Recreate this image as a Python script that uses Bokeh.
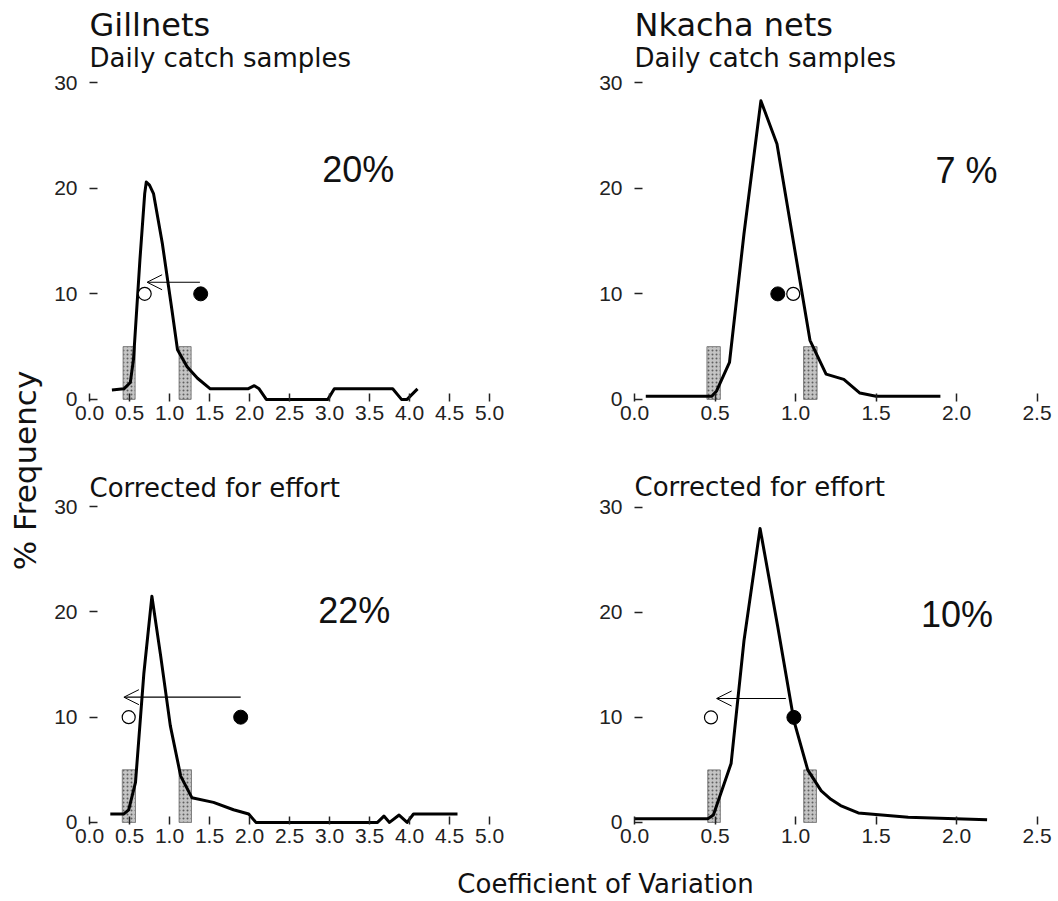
import math
from bokeh.plotting import figure
from bokeh.layouts import row, column
from bokeh.models import (Range1d, FixedTicker, Label, Arrow, OpenHead,
                          CustomJSTickFormatter)
from bokeh.embed import file_html
from bokeh.resources import INLINE

# ---------------- data ----------------
gill_x_ticks = [0.0, 0.5, 1.0, 1.5, 2.0, 2.5, 3.0, 3.5, 4.0, 4.5, 5.0]
gill_x_labels = ["0.0", "0.5", "1.0", "1.5", "2.0", "2.5", "3.0", "3.5", "4.0", "4.5", "5.0"]
nk_x_ticks = [0.0, 0.5, 1.0, 1.5, 2.0, 2.5]
nk_x_labels = ["0.0", "0.5", "1.0", "1.5", "2.0", "2.5"]
y_ticks = [0, 10, 20, 30]
y_labels = ["0", "10", "20", "30"]

# Gillnets, daily catch samples
gd_cv = [0.28, 0.43, 0.51, 0.55, 0.63, 0.69, 0.71, 0.75, 0.80, 0.91, 1.03, 1.10, 1.22,
         1.35, 1.51, 1.98, 2.06, 2.12, 2.21, 2.98, 3.06, 3.79, 3.90, 3.97, 4.10]
gd_freq = [0.9, 1.0, 1.6, 3.8, 13.2, 19.5, 20.6, 20.3, 19.5, 14.8, 8.5, 4.7, 3.1,
           2.0, 1.0, 1.0, 1.3, 1.0, 0.0, 0.0, 1.0, 1.0, 0.0, 0.0, 1.0]
# Gillnets, corrected for effort
gc_cv = [0.26, 0.43, 0.49, 0.575, 0.68, 0.78, 0.89, 1.01, 1.14, 1.28, 1.55, 1.80, 1.99,
         2.08, 3.60, 3.68, 3.75, 3.87, 3.97, 4.05, 4.60]
gc_freq = [0.8, 0.8, 1.2, 3.8, 14.2, 21.5, 15.8, 9.2, 4.4, 2.35, 1.9, 1.2, 0.8,
           0.0, 0.0, 0.6, 0.0, 0.7, 0.0, 0.8, 0.8]
# Nkacha nets, daily catch samples
nd_cv = [0.07, 0.48, 0.51, 0.59, 0.68, 0.785, 0.885, 1.09, 1.19, 1.30, 1.40, 1.50, 1.90]
nd_freq = [0.3, 0.3, 0.8, 3.5, 15.7, 28.3, 24.2, 5.6, 2.4, 1.9, 0.6, 0.3, 0.3]
# Nkacha nets, corrected for effort
nc_cv = [0.0, 0.455, 0.49, 0.60, 0.68, 0.78, 0.89, 0.99, 1.076, 1.16, 1.22, 1.28, 1.39, 1.70, 2.19]
nc_freq = [0.35, 0.35, 0.7, 5.6, 17.3, 28.0, 18.6, 9.7, 5.0, 3.0, 2.2, 1.6, 0.9, 0.5, 0.26]

# shaded interval bars (left, right, height)
gd_bar_left, gd_bar_right, gd_bar_top = [0.42, 1.12], [0.57, 1.27], [5, 5]
gc_bar_left, gc_bar_right, gc_bar_top = [0.41, 1.12], [0.575, 1.275], [5, 5]
nd_bar_left, nd_bar_right, nd_bar_top = [0.45, 1.05], [0.533, 1.134], [5, 5]
nc_bar_left, nc_bar_right, nc_bar_top = [0.455, 1.051], [0.533, 1.13], [5, 5]

# observed (filled) and expected (open) CV markers
marker_level = 10
gd_open, gd_filled = 0.69, 1.39
gc_open, gc_filled = 0.49, 1.89
nd_open, nd_filled = 0.986, 0.89
nc_open, nc_filled = 0.475, 0.99

# arrows: (from, to, level); None when absent
gd_arrow = (1.38, 0.72, 11.1)
gc_arrow = (1.89, 0.43, 11.9)
nd_arrow = None
nc_arrow = (0.94, 0.51, 11.8)

# percentage annotations
gd_pct, gc_pct, nd_pct, nc_pct = "20%", "22%", "7 %", "10%"

TITLE_FONT = "DejaVu Sans"
TICK_FONT = "Liberation Sans"
BASELINE_FIX = 0.38   # em shift observed for alphabetic baseline labels

FMT_CODE = ("const i = tvals.findIndex(t => Math.abs(t - tick) < 1e-9); "
            "return i >= 0 ? tlabs[i] : '';")


def panel(width, height, mb_left, mb_right, mb_bottom, px_per_x, px_per_y,
          xticks, xlabels, cv, freq, bl, br, bt, open_x, filled_x, arrow,
          pct, pct_pos, titles):
    y_start = -0.2
    frame_w = width - mb_left - mb_right
    frame_h = height - mb_bottom
    p = figure(width=width, height=height,
               x_range=Range1d(0, frame_w / px_per_x),
               y_range=Range1d(y_start, y_start + frame_h / px_per_y),
               output_backend="svg", toolbar_location=None,
               min_border_left=mb_left, min_border_right=mb_right,
               min_border_top=0, min_border_bottom=mb_bottom)
    p.outline_line_color = None
    p.xgrid.visible = False
    p.ygrid.visible = False
    p.background_fill_color = "white"
    p.border_fill_color = "white"

    p.xaxis.ticker = FixedTicker(ticks=xticks)
    p.xaxis.formatter = CustomJSTickFormatter(
        args=dict(tvals=xticks, tlabs=xlabels), code=FMT_CODE)
    p.yaxis.ticker = FixedTicker(ticks=y_ticks)
    p.yaxis.formatter = CustomJSTickFormatter(
        args=dict(tvals=y_ticks, tlabs=y_labels), code=FMT_CODE)
    for ax in (p.xaxis[0], p.yaxis[0]):
        ax.axis_line_color = None
        ax.major_tick_in = 8
        ax.major_tick_out = 0
        ax.minor_tick_line_color = None
        ax.major_tick_line_color = "#222222"
        ax.major_tick_line_width = 1.5
        ax.major_label_text_font = TICK_FONT
        ax.major_label_text_font_size = "21px"
        ax.major_label_text_color = "#222222"
    p.xaxis.major_label_standoff = 4
    p.yaxis.major_label_standoff = 12

    p.quad(left=bl, right=br, bottom=[0] * len(bl), top=bt,
           fill_color="#c4c4c4", line_color="#808080", line_width=1,
           hatch_pattern="dot", hatch_color="#5f5f5f", hatch_scale=4, hatch_weight=1)
    p.line(cv, freq, line_color="black", line_width=3, line_join="round")

    if arrow is not None:
        x0, x1, lev = arrow
        p.add_layout(Arrow(end=OpenHead(size=15, line_width=1, line_color="black"),
                           x_start=x0, y_start=lev, x_end=x1, y_end=lev,
                           line_width=1.2, line_color="black"))
    p.scatter([open_x], [marker_level], marker="circle", size=13,
              fill_color="white", line_color="black", line_width=1.2)
    p.scatter([filled_x], [marker_level], marker="circle", size=14,
              fill_color="black", line_color="black")

    p.add_layout(Label(x=pct_pos[0], y=pct_pos[1] + BASELINE_FIX * 36 / px_per_y,
                       text=pct, text_font=TICK_FONT,
                       text_font_size="36px", text_color="#111111",
                       text_align="left", text_baseline="alphabetic"))
    for txt, ty, size in titles:
        p.add_layout(Label(x=0, y=ty + BASELINE_FIX * size / px_per_y, text=txt,
                           text_font=TITLE_FONT,
                           text_font_size=f"{size}px", text_color="#111111",
                           text_align="left", text_baseline="alphabetic"))
    return p


tl = panel(485, 440, 44, 5, 38, 80, 10.58, gill_x_ticks, gill_x_labels,
           gd_cv, gd_freq, gd_bar_left, gd_bar_right, gd_bar_top,
           gd_open, gd_filled, gd_arrow, gd_pct, (2.91, 20.5),
           [("Gillnets", 34.3, 32), ("Daily catch samples", 31.4, 26)])
tr = panel(528, 440, 104, 0, 39, 161, 10.55, nk_x_ticks, nk_x_labels,
           nd_cv, nd_freq, nd_bar_left, nd_bar_right, nd_bar_top,
           nd_open, nd_filled, nd_arrow, nd_pct, (1.87, 20.4),
           [("Nkacha nets", 34.3, 32), ("Daily catch samples", 31.4, 26)])
bl = panel(485, 421, 44, 5, 36, 80, 10.55, gill_x_ticks, gill_x_labels,
           gc_cv, gc_freq, gc_bar_left, gc_bar_right, gc_bar_top,
           gc_open, gc_filled, gc_arrow, gc_pct, (2.86, 18.8),
           [("Corrected for effort", 30.8, 26)])
br = panel(528, 421, 104, 0, 37, 161, 10.5, nk_x_ticks, nk_x_labels,
           nc_cv, nc_freq, nc_bar_left, nc_bar_right, nc_bar_top,
           nc_open, nc_filled, nc_arrow, nc_pct, (1.78, 18.5),
           [("Corrected for effort", 31.0, 26)])

# strip holding the shared y-axis title
ls = figure(width=45, height=861, x_range=Range1d(0, 45), y_range=Range1d(0, 861),
            x_axis_location=None, y_axis_location=None, output_backend="svg",
            toolbar_location=None, min_border=0)
ls.outline_line_color = None
ls.xgrid.visible = False
ls.ygrid.visible = False
ls.add_layout(Label(x=24.5, y=391, text="% Frequency", angle=math.pi / 2,
                    text_font=TITLE_FONT, text_font_size="31px", text_color="#111111",
                    text_align="center", text_baseline="middle"))

# strip holding the shared x-axis title
bs = figure(width=1058, height=40, x_range=Range1d(0, 1058), y_range=Range1d(0, 40),
            x_axis_location=None, y_axis_location=None, output_backend="svg",
            toolbar_location=None, min_border=0)
bs.outline_line_color = None
bs.xgrid.visible = False
bs.ygrid.visible = False
bs.add_layout(Label(x=605, y=8 + BASELINE_FIX * 26, text="Coefficient of Variation",
                    text_font=TITLE_FONT, text_font_size="26px", text_color="#111111",
                    text_align="center", text_baseline="alphabetic"))

layout = column(row(ls, column(row(tl, tr), row(bl, br))), bs)

open("out.html", "w").write(file_html(layout, INLINE))
